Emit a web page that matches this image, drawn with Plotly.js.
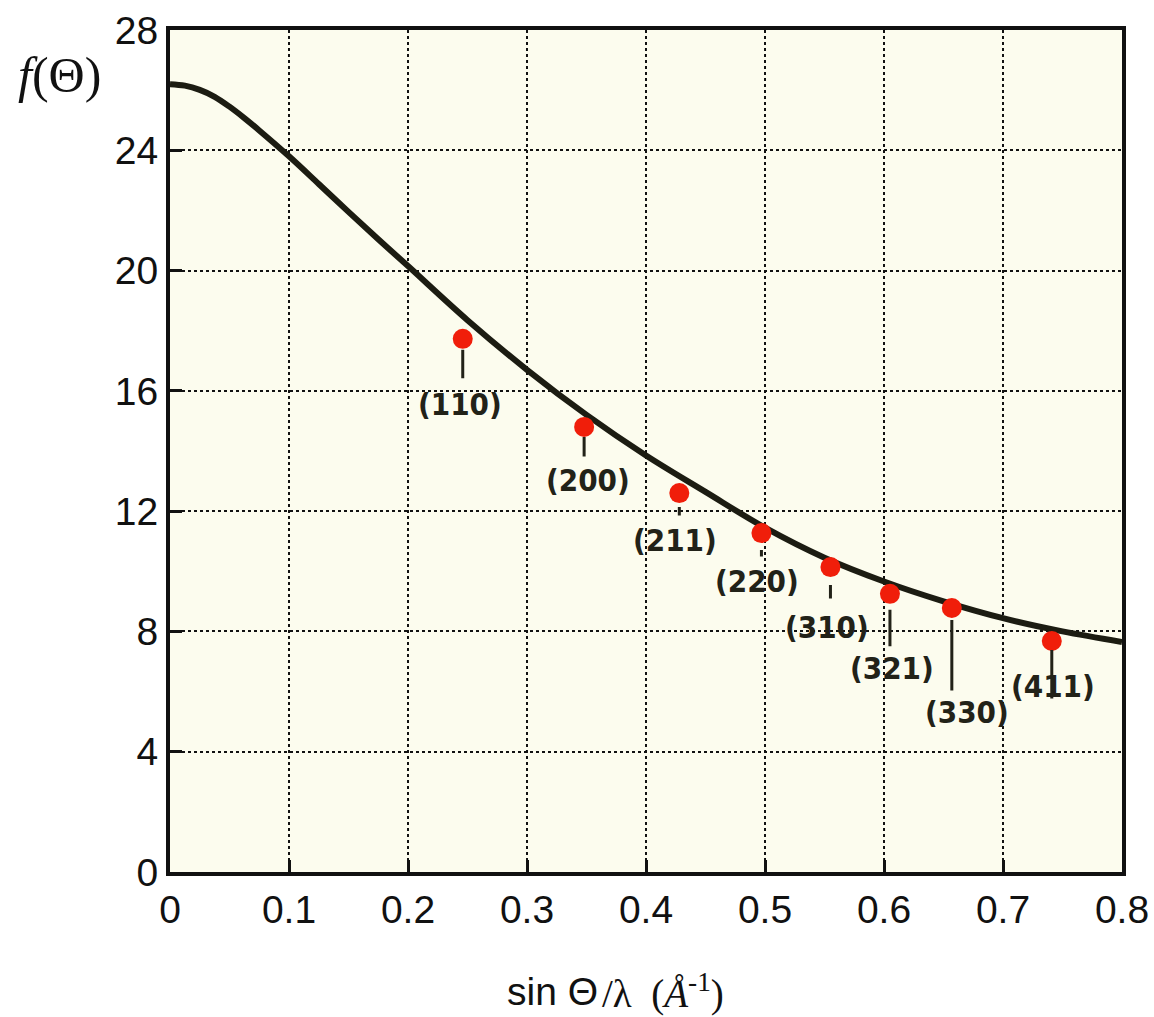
<!DOCTYPE html>
<html>
<head>
<meta charset="utf-8">
<script src="https://cdn.plot.ly/plotly-3.0.1.min.js"></script>
<style>html,body{margin:0;padding:0;background:#fff;}#chart{width:1154px;height:1017px;}</style>
</head>
<body>
<div id="chart"></div>
<script>
// Curve: atomic scattering factor f(Θ) vs sinΘ/λ
const curveX = [0, 0.0125, 0.025, 0.0375, 0.05, 0.0625, 0.075, 0.1, 0.125, 0.15, 0.175, 0.2, 0.25, 0.3, 0.35, 0.4, 0.45, 0.5, 0.55, 0.6, 0.65, 0.7, 0.75, 0.8];
const curveY = [26.2, 26.15, 26.01, 25.78, 25.45, 25.07, 24.66, 23.8, 22.88, 21.95, 21.04, 20.15, 18.35, 16.7, 15.2, 13.85, 12.64, 11.45, 10.45, 9.66, 9.0, 8.44, 8.0, 7.65];

// Measured reflections
const reflLabels = ["(110)", "(200)", "(211)", "(220)", "(310)", "(321)", "(330)", "(411)"];
const reflX = [0.246, 0.348, 0.428, 0.497, 0.555, 0.605, 0.657, 0.741];
const reflY = [17.73, 14.80, 12.60, 11.27, 10.14, 9.25, 8.78, 7.68];

// Axis ticks
const xTicks = [0, 0.1, 0.2, 0.3, 0.4, 0.5, 0.6, 0.7, 0.8];
const xTickText = ["0", "0.1", "0.2", "0.3", "0.4", "0.5", "0.6", "0.7", "0.8"];
const yTicks = [0, 4, 8, 12, 16, 20, 24, 28];
const yTickText = ["0", "4", "8", "12", "16", "20", "24", "28"];

// Label placement (pixel offsets from each point): leader line tail/standoff, text offset
const leaderTail = [41, 31, 24, 25, 33, 54, 84, 59];
const leaderGap = [11, 10, 14, 17, 18, 16, 12, 9];
const textDx = [-3, 4, -4, -4, -3, 2, 15, 1];
const textDy = [65, 53, 47, 48, 60, 74, 104, 45];

const annotations = [];
reflLabels.forEach((lab, i) => {
  annotations.push({
    x: reflX[i], y: reflY[i], xref: 'x', yref: 'y', text: '',
    showarrow: true, arrowhead: 0, arrowwidth: 3, arrowcolor: '#222218',
    ax: 0, ay: leaderTail[i], standoff: leaderGap[i]
  });
  annotations.push({
    x: reflX[i], y: reflY[i], xref: 'x', yref: 'y', text: lab,
    showarrow: false, xshift: textDx[i], yshift: -textDy[i],
    xanchor: 'center', yanchor: 'middle',
    font: {family: 'DejaVu Sans Condensed, DejaVu Sans', size: 31, color: '#222218', weight: 'bold'}
  });
});

annotations.push({
  xref: 'paper', yref: 'paper', x: -0.116, y: 0.947, xanchor: 'center', yanchor: 'middle',
  showarrow: false,
  text: '<i>f</i>(Θ)',
  font: {family: 'Liberation Serif', size: 50, color: '#111'}
});
annotations.push({
  xref: 'paper', yref: 'paper', x: 0.452, y: -0.1425, xanchor: 'right', yanchor: 'middle',
  showarrow: false,
  text: 'sin Θ',
  font: {family: 'Liberation Sans', size: 39, color: '#111'}
});
annotations.push({
  xref: 'paper', yref: 'paper', x: 0.452, y: -0.1425, xanchor: 'left', yanchor: 'middle',
  showarrow: false,
  text: '/λ  (<i>Å</i><sup>-1</sup>)',
  font: {family: 'Liberation Serif', size: 39, color: '#111'}
});

const traces = [
  {x: curveX, y: curveY, mode: 'lines', type: 'scatter',
   line: {color: '#1c1c12', width: 6, shape: 'spline', smoothing: 1}, hoverinfo: 'skip'},
  {x: reflX, y: reflY, mode: 'markers', type: 'scatter',
   marker: {color: '#f01e0a', size: 20, line: {width: 0}}}
];

const layout = {
  width: 1154, height: 1017,
  margin: {l: 170, r: 32, t: 30, b: 145},
  paper_bgcolor: '#ffffff',
  plot_bgcolor: '#fcfcee',
  showlegend: false,
  font: {family: 'Liberation Sans, Arial, sans-serif', color: '#111'},
  xaxis: {
    range: [0, 0.8], tickvals: xTicks, ticktext: xTickText,
    showgrid: true, gridcolor: '#111', gridwidth: 2, griddash: 'dot',
    showline: true, mirror: true, linecolor: '#111', linewidth: 4,
    ticks: 'inside', ticklen: 12, tickwidth: 3, tickcolor: '#111',
    tickfont: {size: 39, color: '#111'}, zeroline: false
  },
  yaxis: {
    range: [0, 28], tickvals: yTicks, ticktext: yTickText,
    showgrid: true, gridcolor: '#111', gridwidth: 2, griddash: 'dot',
    showline: true, mirror: true, linecolor: '#111', linewidth: 4,
    ticks: 'inside', ticklen: 12, tickwidth: 3, tickcolor: '#111',
    tickfont: {size: 39, color: '#111'}, zeroline: false
  },
  annotations: annotations
};

Plotly.newPlot('chart', traces, layout, {staticPlot: true, displayModeBar: false});
</script>
</body>
</html>
